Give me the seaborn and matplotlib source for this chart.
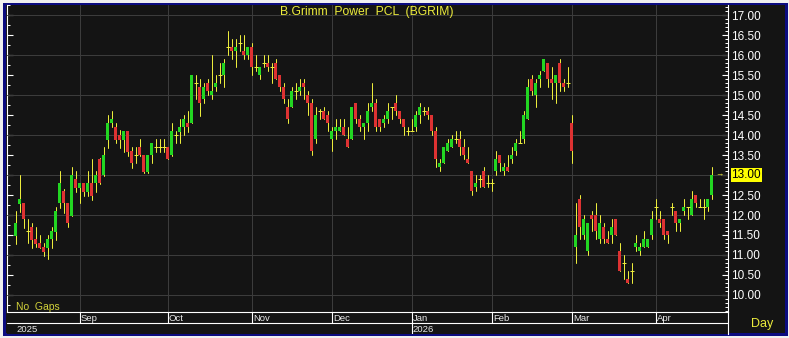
import numpy as np
import pandas as pd
import seaborn as sns
import matplotlib
matplotlib.use("Agg")
import matplotlib.pyplot as plt
from matplotlib.patches import Rectangle
from matplotlib.ticker import MultipleLocator, FuncFormatter

# ---------------- data ----------------
opens = [
    11.48, 12.28, 12.29, 11.60, 11.69, 11.40, 11.29, 11.20, 11.18, 11.39,
    11.58, 12.29, 12.60, 12.29, 11.98, 12.89, 12.68, 12.79, 12.58, 12.79,
    12.79, 13.40, 13.00, 13.88, 14.30, 14.21, 14.00, 13.88, 14.10, 13.60,
    13.50, 13.69, 13.50, 13.08, 13.50, 13.69, 13.69, 13.69, 13.69, 13.50,
    14.00, 14.08, 14.19, 14.29, 14.29, 15.29, 15.20, 14.90, 15.30, 15.00,
    15.20, 15.50, 15.50, 16.20, 16.20, 16.10, 16.30, 16.10, 16.00, 16.20,
    15.70, 15.50, 15.80, 15.80, 15.70, 15.80, 15.50, 15.20, 14.70, 14.70,
    15.10, 15.10, 15.30, 15.00, 14.80, 13.90, 14.60, 14.60, 14.50, 13.90,
    14.10, 14.10, 14.20, 13.90, 13.90, 14.80, 14.40, 14.20, 14.30, 14.70,
    14.80, 14.40, 14.30, 14.40, 14.70, 14.80, 14.60, 14.40, 14.10, 14.10,
    14.20, 14.50, 14.60, 14.60, 14.50, 14.10, 13.20, 13.30, 13.60, 13.70,
    13.90, 13.90, 13.70, 13.40, 13.10, 12.70, 12.90, 13.10, 12.80, 12.80,
    13.10, 13.50, 13.10, 13.20, 13.40, 13.60, 13.80, 13.90, 14.40, 15.40,
    15.00, 15.40, 15.60, 15.80, 15.40, 15.30, 15.80, 15.30, 15.30, 14.30,
    11.20, 12.40, 11.50, 11.10, 12.00, 12.00, 11.40, 11.70, 11.40, 11.50,
    11.90, 11.10, 10.80, 10.40, 10.60, 11.20, 11.10, 11.20, 11.20, 11.50,
    12.20, 11.90, 11.90, 11.60, 12.20, 12.10, 11.80, 12.10, 12.20, 12.00,
    12.50, 12.20, 12.20, 12.20, 12.50]

closes = [
    11.79, 12.40, 11.89, 11.60, 11.38, 11.28, 11.18, 11.08, 11.39, 11.59,
    12.10, 12.80, 12.29, 11.79, 13.00, 12.68, 12.79, 12.58, 12.79, 12.48,
    13.00, 12.79, 13.50, 14.29, 14.40, 13.88, 13.88, 14.10, 13.58, 13.29,
    13.50, 13.50, 13.08, 13.50, 13.79, 13.69, 13.69, 13.69, 13.39, 14.10,
    14.00, 14.19, 14.40, 14.19, 15.50, 15.29, 14.79, 15.20, 15.10, 15.10,
    15.30, 15.50, 15.80, 16.20, 16.10, 16.20, 16.30, 16.00, 16.20, 15.70,
    15.70, 15.70, 15.80, 15.70, 15.70, 15.40, 15.20, 14.90, 14.40, 15.10,
    15.10, 15.20, 15.20, 14.80, 13.60, 14.50, 14.60, 14.40, 14.30, 14.10,
    14.20, 14.20, 14.00, 13.70, 14.70, 14.40, 14.20, 14.30, 14.60, 14.80,
    14.20, 14.20, 14.40, 14.60, 14.70, 14.60, 14.40, 14.20, 14.10, 14.10,
    14.50, 14.70, 14.60, 14.50, 14.10, 13.40, 13.30, 13.70, 13.80, 13.90,
    13.90, 13.70, 13.50, 13.30, 12.60, 12.80, 12.90, 12.70, 12.80, 12.80,
    13.40, 13.30, 13.20, 13.10, 13.50, 13.80, 13.80, 14.50, 15.20, 15.10,
    15.30, 15.50, 15.90, 15.40, 15.30, 15.50, 15.30, 15.20, 15.30, 13.60,
    11.50, 11.70, 11.90, 11.80, 11.90, 11.60, 11.80, 11.40, 11.30, 11.70,
    11.50, 10.60, 10.80, 10.30, 10.60, 11.30, 11.20, 11.40, 11.40, 11.90,
    12.20, 11.80, 11.50, 11.50, 12.20, 11.80, 11.90, 12.20, 12.20, 12.40,
    12.30, 12.20, 12.20, 12.40, 13.00]

highs = [
    12.11, 13.00, 12.30, 11.90, 11.81, 11.69, 11.50, 11.29, 11.50, 11.69,
    12.19, 13.10, 12.65, 12.30, 13.21, 13.10, 12.80, 12.80, 13.10, 13.40,
    13.10, 13.42, 13.71, 14.50, 14.60, 14.29, 14.13, 14.10, 14.10, 13.71,
    13.71, 13.90, 13.50, 13.50, 13.79, 13.90, 13.90, 13.90, 13.70, 14.29,
    14.10, 14.40, 14.50, 14.60, 15.50, 15.50, 15.40, 15.30, 15.40, 16.00,
    15.50, 15.80, 15.90, 16.60, 16.40, 16.40, 16.50, 16.50, 16.20, 16.30,
    16.00, 15.70, 16.00, 16.00, 15.80, 15.90, 15.50, 15.30, 14.90, 15.20,
    15.30, 15.40, 15.40, 15.10, 14.90, 14.70, 14.65, 14.70, 14.60, 14.20,
    14.40, 14.40, 14.40, 14.20, 14.70, 14.80, 14.50, 14.30, 14.80, 15.30,
    14.90, 14.40, 14.50, 14.80, 14.70, 15.00, 14.60, 14.40, 14.20, 14.40,
    14.60, 14.80, 14.70, 14.70, 14.50, 14.20, 13.40, 13.70, 13.90, 14.00,
    14.10, 14.10, 13.90, 13.70, 13.10, 13.00, 13.00, 13.20, 13.00, 12.90,
    13.60, 13.50, 13.30, 13.50, 13.70, 13.90, 14.10, 14.60, 15.40, 15.50,
    15.40, 15.60, 15.90, 15.80, 15.70, 15.50, 15.90, 15.40, 15.70, 14.50,
    12.30, 12.50, 12.00, 11.80, 12.10, 12.30, 12.00, 11.80, 11.60, 11.90,
    11.90, 11.30, 11.00, 10.60, 10.80, 11.50, 11.30, 11.60, 11.40, 12.10,
    12.40, 12.10, 11.90, 11.60, 12.30, 12.10, 11.90, 12.40, 12.20, 12.60,
    12.50, 12.40, 12.40, 12.40, 13.20]

lows = [
    11.28, 12.08, 11.67, 11.29, 11.18, 11.21, 11.17, 10.98, 10.89, 11.18,
    11.38, 12.18, 12.04, 11.69, 11.98, 12.58, 12.29, 12.48, 12.48, 12.38,
    12.58, 12.78, 12.98, 13.67, 14.20, 13.79, 13.67, 13.58, 13.48, 13.18,
    13.29, 13.48, 13.05, 13.05, 13.29, 13.58, 13.58, 13.58, 13.39, 13.48,
    13.79, 13.79, 14.00, 14.08, 14.29, 14.90, 14.48, 14.79, 15.00, 14.90,
    15.10, 15.30, 15.20, 16.00, 15.90, 15.70, 16.10, 15.90, 15.90, 15.50,
    15.60, 15.40, 15.70, 15.60, 15.30, 15.40, 15.10, 14.80, 14.30, 14.70,
    14.90, 15.00, 14.90, 14.50, 13.50, 13.80, 14.40, 14.40, 14.10, 13.60,
    13.90, 14.10, 14.00, 13.70, 13.90, 14.30, 14.10, 13.90, 14.10, 14.60,
    14.10, 14.10, 14.20, 14.30, 14.40, 14.50, 14.30, 14.00, 14.00, 14.10,
    14.10, 14.30, 14.50, 14.40, 14.00, 13.20, 13.10, 13.30, 13.60, 13.70,
    13.80, 13.50, 13.40, 13.30, 12.50, 12.60, 12.70, 12.70, 12.70, 12.60,
    13.00, 13.10, 13.00, 13.10, 13.30, 13.50, 13.80, 13.80, 14.40, 15.00,
    14.70, 15.20, 15.60, 15.20, 14.90, 14.80, 15.10, 15.10, 15.20, 13.30,
    10.80, 11.40, 11.40, 11.00, 11.60, 11.40, 11.30, 11.30, 11.30, 11.30,
    11.50, 10.60, 10.40, 10.30, 10.30, 11.10, 11.00, 11.20, 11.20, 11.40,
    11.90, 11.70, 11.40, 11.30, 12.00, 11.60, 11.60, 12.00, 11.90, 12.00,
    12.20, 12.20, 11.90, 12.10, 12.40]

month_labels = ["Sep", "Oct", "Nov", "Dec", "Jan", "Feb", "Mar", "Apr"]
month_start = [16, 38, 59, 79, 99, 119, 139, 160]   # bar index of first trading day
year_labels = ["2025", "2026"]
year_start = [0, 99]
title_text = "B.Grimm  Power  PCL  (BGRIM)"

# ---------------- style ----------------
BG = "#141414"
GRID = "#3c3c3c"
GREEN = "#22d622"
RED = "#de3232"
YELLOW = "#ecec3c"
NAVY = "#0c0c80"
OUTER = "#f0f0f0"
LW1 = 0.72  # one pixel at 100 dpi

sns.set_theme(style="dark", rc={"axes.facecolor": BG, "figure.facecolor": OUTER})
plt.rcParams["font.family"] = ["Liberation Sans", "DejaVu Sans"]

W, H = 789, 338
fig = plt.figure(figsize=(W / 100, H / 100), dpi=100)

def fx(px):
    return px / W

def fy(py):
    return 1 - py / H

# frame (drawn beneath the axes)
fig.patches.append(Rectangle((fx(3), fy(336)), fx(788 - 3), (336 - 3) / H,
                             transform=fig.transFigure, facecolor=NAVY,
                             edgecolor="none", zorder=-3))
fig.patches.append(Rectangle((fx(6), fy(333)), fx(785 - 6), (333 - 5) / H,
                             transform=fig.transFigure, facecolor=BG,
                             edgecolor="none", zorder=-2))

X0 = 15.5
XL = ((7 - X0) / 4, (728 - X0) / 4)
YL = (17 - (312 - 15) / 40, 17 - (5 - 15) / 40)

ax = fig.add_axes([fx(7), fy(312), (728 - 7) / W, (312 - 5) / H])
ax.set_facecolor(BG)

o = np.array(opens)
c = np.array(closes)
hi = np.array(highs)
lo = np.array(lows)
idx = np.arange(len(o))

# grid
for p in range(10, 18):
    ax.axhline(p, color=GRID, lw=LW1, zorder=1)
for m in month_start:
    ax.axvline(m, color=GRID, lw=LW1, zorder=1)

# wicks via seaborn
wick_df = pd.DataFrame({
    "idx": np.concatenate([idx, idx]),
    "price": np.concatenate([lo, hi]),
})
sns.lineplot(data=wick_df, x="idx", y="price", units="idx", estimator=None,
             color=YELLOW, lw=LW1, ax=ax, legend=False, zorder=2)

# bodies
body = np.abs(c - o) > 1e-9
colors = np.where(c > o, GREEN, RED)
ax.bar(idx[body], np.abs(c - o)[body], bottom=np.minimum(o, c)[body],
       width=0.85, color=colors[body], linewidth=0, zorder=3, antialiased=False)

# doji crosses
doji = ~body
ax.hlines(o[doji], idx[doji] - 0.5, idx[doji] + 0.5, colors=YELLOW,
          lw=LW1, zorder=3)

ax.set_xlim(*XL)
ax.set_ylim(*YL)
ax.set_xlabel("")
ax.set_ylabel("")
ax.set_xticks([])
for s in ["top", "bottom", "left"]:
    ax.spines[s].set_visible(False)
ax.spines["right"].set_visible(True)
ax.spines["right"].set_color("white")
ax.spines["right"].set_linewidth(0.8)

last_close = c[-1]
ax.yaxis.tick_right()
ax.yaxis.set_major_locator(MultipleLocator(0.5))
ax.yaxis.set_minor_locator(MultipleLocator(0.1))
ax.yaxis.set_major_formatter(FuncFormatter(
    lambda v, p: "" if abs(v - last_close) < 0.2 else f"{v:.2f}"))
ax.tick_params(axis="y", which="major", direction="in", length=4, width=0.8,
               color="white", labelcolor="white", labelsize=8.5, pad=2.5,
               right=True, left=False)
ax.tick_params(axis="y", which="minor", direction="in", length=2, width=0.7,
               color="white", right=True, left=False)
ax.grid(False)

sec = ax.secondary_yaxis("left")
sec.yaxis.set_major_locator(MultipleLocator(0.5))
sec.yaxis.set_minor_locator(MultipleLocator(0.25))
sec.tick_params(which="major", direction="in", length=4, width=0.8, color="white",
                labelleft=False)
sec.tick_params(which="minor", direction="in", length=2.5, width=0.7, color="white",
                labelleft=False)
sec.spines["left"].set_visible(True)
sec.spines["left"].set_color("white")
sec.spines["left"].set_linewidth(0.8)

# last price marker
ax.annotate(f"{last_close:.2f}", xy=(1, last_close), xycoords=("axes fraction", "data"),
            xytext=(2.5, 0), textcoords="offset points", ha="left", va="center",
            fontsize=8.5, color="black", annotation_clip=False,
            bbox=dict(boxstyle="square,pad=0.08", facecolor="#ffff00", edgecolor="none"))
ax.text(idx[-1] + 2.0, last_close, "→", color=YELLOW, fontsize=6,
        ha="center", va="center", zorder=5)

# date strip
sax = fig.add_axes([fx(7), fy(334), (728 - 7) / W, (334 - 312) / H])
sax.set_facecolor(BG)
sax.set_xlim(*XL)
sax.set_ylim(0, 2)
sax.set_xticks([])
sax.set_yticks([])
for s in ["left", "bottom"]:
    sax.spines[s].set_visible(False)
for s in ["top", "right"]:
    sax.spines[s].set_visible(True)
    sax.spines[s].set_color("white")
    sax.spines[s].set_linewidth(0.8)
sax.axhline(1, color="white", lw=0.8)
for m, lab in zip(month_start, month_labels):
    sax.vlines(m, 1, 2, color="white", lw=0.8)
    sax.text(m + 0.35, 1.45, lab, color="#e8e8e8", fontsize=6.8, ha="left", va="center")
for ys, lab in zip(year_start, year_labels):
    if ys > 0:
        sax.vlines(ys, 0, 1, color="white", lw=0.8)
        sax.text(ys + 0.35, 0.45, lab, color="#e8e8e8", fontsize=6.8, ha="left", va="center")
    else:
        sax.text(0.2, 0.45, lab, color="#e8e8e8", fontsize=6.8, ha="left", va="center")

# texts
fig.text(fx(366.5), fy(12), title_text, ha="center", va="center",
         color=YELLOW, fontsize=8.7)
fig.text(fx(16), fy(306.5), "No  Gaps", ha="left", va="center",
         color="#d2d23a", fontsize=7.5)
fig.text(fx(762.5), fy(324), "Day", ha="center", va="center",
         color=YELLOW, fontsize=9)

fig.savefig("out.png", dpi=100, facecolor=OUTER)
